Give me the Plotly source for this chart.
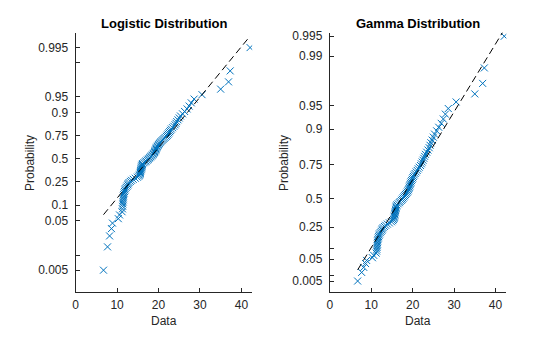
import math
import numpy as np
import plotly.graph_objects as go

# ---- data (sorted sample, n = 100) ----
data = [6.73, 7.7, 8.2, 8.65, 8.9, 10.3, 10.6,
        11.2, 11.3, 11.35, 11.4, 11.45, 11.5, 11.5, 11.55, 11.6, 11.7, 11.8, 11.9, 12.0, 12.2, 12.4, 12.6,
        12.7, 12.9, 13.2, 13.5, 13.9, 14.4, 14.9, 15.2, 15.4, 15.5, 15.6, 15.6, 15.7, 15.7, 15.8, 15.8,
        15.9, 15.9, 16.0, 16.0, 16.1, 16.2, 16.5, 16.8, 17.0, 17.3, 17.5, 17.7, 17.9, 18.1, 18.3, 18.5,
        18.7, 18.85, 19.0, 19.1, 19.2, 19.3, 19.4, 19.5, 19.6, 19.75, 19.9, 20.05, 20.2, 20.4, 20.6,
        20.85, 21.1, 21.35, 21.6, 21.9, 22.1, 22.3, 22.5, 22.7, 22.9, 23.1, 23.4, 23.7, 24.0, 24.2,
        24.4, 24.7, 25.0, 25.3, 25.8, 26.3, 26.9, 27.4, 27.9, 28.6, 30.5, 35.0, 36.9, 37.3, 42.1]
logistic_params = [17.78, 4.165]   # mu, sigma
gamma_params = [6.7, 2.704]        # shape a, scale b
prob_ticks = [0.005, 0.01, 0.05, 0.1, 0.25, 0.5, 0.75, 0.9, 0.95, 0.99, 0.995]
logistic_labels = ["0.005", "", "0.05", "0.1", "0.25", "0.5", "0.75", "0.9", "0.95", "", "0.995"]
gamma_labels = ["0.005", "", "0.05", "", "0.25", "0.5", "0.75", "0.9", "0.95", "0.99", "0.995"]
x_ticks = [0, 10, 20, 30, 40]
titles = ["Logistic Distribution", "Gamma Distribution"]

x = np.sort(np.array(data, dtype=float))
n = len(x)
p = (np.arange(1, n + 1) - 0.5) / n
mu_hat, s_hat = logistic_params
a_hat, b_hat = gamma_params


def logit(q):
    q = np.asarray(q, dtype=float)
    return np.log(q / (1 - q))


def gamcdf(v, a, b):
    t = v / b
    if t <= 0:
        return 0.0
    term = 1.0 / a
    total = term
    k = 1
    while k < 2000:
        term *= t / (a + k)
        total += term
        if term < total * 1e-15:
            break
        k += 1
    return math.exp(a * math.log(t) - t - math.lgamma(a)) * total


def gaminv(q, a, b):
    lo, hi = 0.0, 500.0
    for _ in range(100):
        mid = 0.5 * (lo + hi)
        if gamcdf(mid, a, b) < q:
            lo = mid
        else:
            hi = mid
    return 0.5 * (lo + hi)


y_log = logit(p)
y_gam = np.array([gaminv(q, a_hat, b_hat) for q in p])
xl = np.array([x.min(), x.max()])
yl_log = (xl - mu_hat) / s_hat
yl_gam = xl.copy()

blue = "#0072BD"
axcol = "#262626"
font = "Liberation Sans, Arial, Helvetica, sans-serif"

fig = go.Figure()
fig.add_trace(go.Scatter(x=x, y=y_log, mode="markers", xaxis="x", yaxis="y",
                         marker=dict(symbol="x-thin", size=7, line=dict(color=blue, width=1))))
fig.add_trace(go.Scatter(x=xl, y=yl_log, mode="lines", xaxis="x", yaxis="y",
                         line=dict(color="black", width=1, dash="7px,4px")))
fig.add_trace(go.Scatter(x=x, y=y_gam, mode="markers", xaxis="x2", yaxis="y2",
                         marker=dict(symbol="x-thin", size=7, line=dict(color=blue, width=1))))
fig.add_trace(go.Scatter(x=xl, y=yl_gam, mode="lines", xaxis="x2", yaxis="y2",
                         line=dict(color="black", width=1, dash="7px,4px")))

W, H = 560, 337
top, bot = 30, 292
d1 = [73 / W, 250.5 / W]
d2 = [328.5 / W, 506 / W]
ydom = [1 - bot / H, 1 - top / H]

common_x = dict(range=[0, 42.6], tickvals=x_ticks, ticks="inside", ticklen=4, tickcolor=axcol,
                showline=True, linecolor=axcol, linewidth=1, showgrid=False, zeroline=False,
                ticklabelstandoff=1,
                tickfont=dict(family=font, size=12, color=axcol))
common_y = dict(ticks="inside", ticklen=4, tickcolor=axcol, showline=True, linecolor=axcol,
                linewidth=1, showgrid=False, zeroline=False, ticklabelstandoff=4,
                tickfont=dict(family=font, size=12, color=axcol))

fig.update_layout(
    width=W, height=H, margin=dict(l=0, r=0, t=0, b=0),
    paper_bgcolor="white", plot_bgcolor="white", showlegend=False,
    xaxis=dict(domain=d1, anchor="y", **common_x),
    yaxis=dict(domain=ydom, anchor="x", range=[-6.35, 6.0],
               tickvals=list(logit(prob_ticks)), ticktext=logistic_labels, **common_y),
    xaxis2=dict(domain=d2, anchor="y2", **common_x),
    yaxis2=dict(domain=ydom, anchor="x2", range=[3.42, 41.65],
                tickvals=[gaminv(q, a_hat, b_hat) for q in prob_ticks], ticktext=gamma_labels, **common_y),
)

annos = []
for k, dom in enumerate([d1, d2]):
    cx = (dom[0] + dom[1]) / 2
    annos.append(dict(text="<b>%s</b>" % titles[k], x=cx, y=1 - 20.7 / H, xref="paper", yref="paper",
                      showarrow=False, xanchor="center", yanchor="middle",
                      font=dict(family=font, size=13, color="black")))
    annos.append(dict(text="Data", x=cx, y=1 - 321 / H, xref="paper", yref="paper",
                      showarrow=False, xanchor="center", yanchor="middle",
                      font=dict(family=font, size=12, color=axcol)))
    annos.append(dict(text="Probability", x=(dom[0] * W - 46.5) / W, y=1 - 161 / H,
                      xref="paper", yref="paper", showarrow=False, textangle=-90,
                      xanchor="center", yanchor="middle",
                      font=dict(family=font, size=12, color=axcol)))
fig.update_layout(annotations=annos)
fig.write_html("out.html")
